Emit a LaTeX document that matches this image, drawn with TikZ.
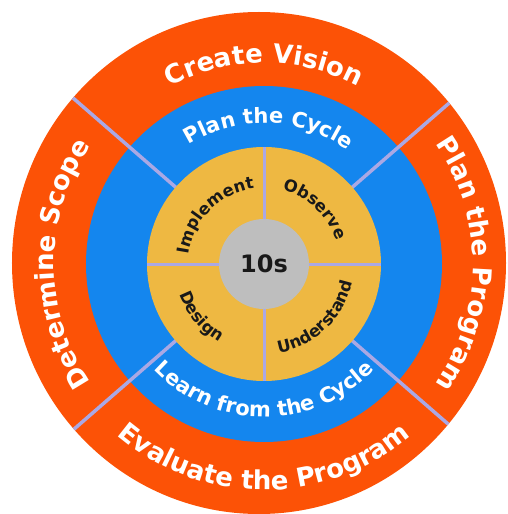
\documentclass[tikz,border=0pt]{standalone}
\usepackage{fontspec}
\setmainfont{DejaVu Sans}
\usepackage{tikz}
\usetikzlibrary{decorations.text}
\definecolor{orangecercle}{RGB}{252,82,6}
\definecolor{bleucercle}{RGB}{20,134,238}
\definecolor{jaunecercle}{RGB}{238,184,66}
\definecolor{griscercle}{RGB}{190,190,190}
\definecolor{lavande}{RGB}{170,168,228}
\newcommand{\policeanneau}{\fontsize{26}{30}\selectfont\bfseries}
\newcommand{\policebleu}{\fontsize{21}{25}\selectfont\bfseries}
\newcommand{\policejaune}{\fontsize{16.5}{20}\selectfont\bfseries}

\begin{document}
\begin{tikzpicture}[x=1pt,y=1pt]
	% STYLES
	\tikzstyle{separation} = [line width=3.5pt, draw=lavande]
	\tikzstyle{croix} = [line width=3pt, draw=lavande]
	\tikzstyle{etiquette} = [decorate, decoration={text along path, text align=center}]
	\tikzstyle{blanc} = [etiquette, decoration={text color=white}]
	\tikzstyle{noir} = [etiquette, decoration={text color=black!90}]

	\useasboundingbox (-264,-250) rectangle (243,264);

	% ANNEAUX
	\fill[orangecercle] (-5,1) ellipse [x radius=247, y radius=251];
	\fill[bleucercle] (0,0) circle (178);
	\begin{scope}
		\clip (-5,1) ellipse [x radius=247, y radius=251];
		\foreach \a in {41,139,221,319}
			\path[separation] (\a:110) -- (\a:260);
	\end{scope}
	\fill[jaunecercle] (0,0) circle (117);
	\path[croix] (0,117) -- (0,-117);
	\path[croix] (-117,0) -- (117,0);

	% NOEUDS
	\node[circle, fill=griscercle, minimum size=90pt, inner sep=0pt,
		font=\fontsize{24}{28}\selectfont\bfseries, text=black!90] (centre) at (0,0) {10s};

	% ANNEAU EXTERIEUR
	\path[blanc, decoration={text={|\policeanneau|Create Vision}}]
		(150:201) arc [start angle=150, end angle=30, radius=201];
	\path[blanc, decoration={text={|\policeanneau|Plan the Program}}]
		(60:209) arc [start angle=60, end angle=-60, radius=209];
	\path[blanc, decoration={text={|\policeanneau|Evaluate the Program}}]
		(210:226) arc [start angle=210, end angle=330, radius=226];
	\path[blanc, decoration={text={|\policeanneau|Determine Scope}}]
		(240:210) arc [start angle=240, end angle=120, radius=210];

	% ANNEAU BLEU
	\path[blanc, decoration={text={|\policebleu|Plan the Cycle}}]
		(148:141) arc [start angle=148, end angle=28, radius=141];
	\path[blanc, decoration={text={|\policebleu|Learn from the Cycle}}]
		(200:153) arc [start angle=200, end angle=340, radius=153];

	% DISQUE JAUNE
	\path[noir, decoration={text={|\policejaune|Implement}}]
		(195:76) arc [start angle=195, end angle=75, radius=76];
	\path[noir, decoration={text={|\policejaune|Observe}}]
		(107:76) arc [start angle=107, end angle=-13, radius=76];
	\path[noir, decoration={text={|\policejaune|Understand}}]
		(254:90) arc [start angle=254, end angle=374, radius=90];
	\path[noir, decoration={text={|\policejaune|Design}}]
		(170:90) arc [start angle=170, end angle=270, radius=90];
\end{tikzpicture}
\end{document}
